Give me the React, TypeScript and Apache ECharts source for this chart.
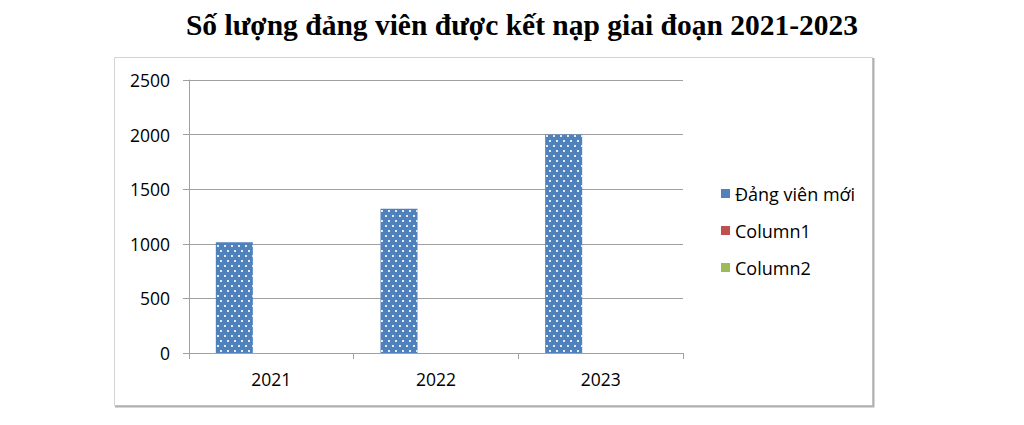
import React, { useEffect, useRef } from "react";
import * as echarts from "echarts";

// Chart data
const titleText = "Số lượng đảng viên được kết nạp giai đoạn 2021-2023";
const years = ["2021", "2022", "2023"];
const seriesNames = ["Đảng viên mới", "Column1", "Column2"];
const newMembers = [1015, 1320, 2000];
const column1: (number | null)[] = [null, null, null];
const column2: (number | null)[] = [null, null, null];
const seriesColors = ["#4f81bd", "#c0504d", "#9bbb59"];
const yTicks = { min: 0, max: 2500, interval: 500 };

const FONT = "'Open Sans', 'Noto Sans', sans-serif";

export default function App() {
  const ref = useRef<HTMLDivElement>(null);

  useEffect(() => {
    if (!ref.current) return;
    const chart = echarts.init(ref.current, null, { renderer: "svg" });

    // white dot pattern on the first series' bars
    const dotted = {
      symbol: "rect",
      symbolSize: 1,
      color: "rgba(255,255,255,0.85)",
      dashArrayX: [
        [1.2, 4.3],
        [0, 2.75, 1.2, 1.55],
      ],
      dashArrayY: [1.2, 2.1],
      rotation: 0,
    };

    const seriesData = [newMembers, column1, column2];

    chart.setOption({
      animation: false,
      backgroundColor: "#ffffff",
      title: {
        text: titleText,
        left: 517,
        textAlign: "center",
        top: 5,
        textStyle: {
          fontFamily: "'Liberation Serif', 'Times New Roman', serif",
          fontWeight: "bold",
          fontSize: 29.5,
          color: "#000000",
        },
      },
      graphic: [
        {
          type: "rect",
          shape: { x: 114.5, y: 57.5, width: 758, height: 348 },
          style: { fill: "none", stroke: "#d4d4d4", lineWidth: 1 },
          silent: true,
          z: -1,
        },
        {
          type: "polyline",
          shape: { points: [[873.5, 58], [873.5, 406.5], [115, 406.5]] },
          style: { fill: "none", stroke: "#b0b0b0", lineWidth: 2 },
          silent: true,
          z: -1,
        },
      ],
      legend: {
        orient: "vertical",
        left: 716,
        top: 176,
        itemWidth: 9,
        itemHeight: 9,
        itemGap: 12,
        icon: "rect",
        textStyle: { fontFamily: FONT, fontSize: 18, color: "#000000", lineHeight: 25 },
        data: seriesNames.map((n, i) => ({
          name: n,
          itemStyle: { color: seriesColors[i], decal: "none" },
        })),
      },
      grid: { left: 189, right: 341, top: 80, bottom: 72 },
      xAxis: {
        type: "category",
        data: years,
        axisLine: { lineStyle: { color: "#a0a0a0", width: 1 } },
        axisTick: { show: true, length: 6, lineStyle: { color: "#a0a0a0" } },
        axisLabel: {
          fontFamily: FONT,
          fontSize: 17.5,
          color: "#000000",
          margin: 17,
        },
      },
      yAxis: {
        type: "value",
        min: yTicks.min,
        max: yTicks.max,
        interval: yTicks.interval,
        axisLine: { show: true, lineStyle: { color: "#a0a0a0", width: 1 } },
        axisTick: { show: true, length: 6, lineStyle: { color: "#a0a0a0" } },
        splitLine: { lineStyle: { color: "#a0a0a0", width: 1 } },
        axisLabel: {
          fontFamily: FONT,
          fontSize: 17.5,
          color: "#000000",
          margin: 19,
          formatter: (v: number) => String(v),
        },
      },
      series: seriesNames.map((name, i) => ({
        name,
        type: "bar",
        data: seriesData[i],
        barWidth: 37,
        barGap: "0%",
        itemStyle: {
          color: seriesColors[i],
          decal: i === 0 ? dotted : "none",
        },
      })),
    });

    return () => chart.dispose();
  }, []);

  return (
    <div
      ref={ref}
      style={{ position: "fixed", left: 0, top: 0, width: 1024, height: 425 }}
    />
  );
}
